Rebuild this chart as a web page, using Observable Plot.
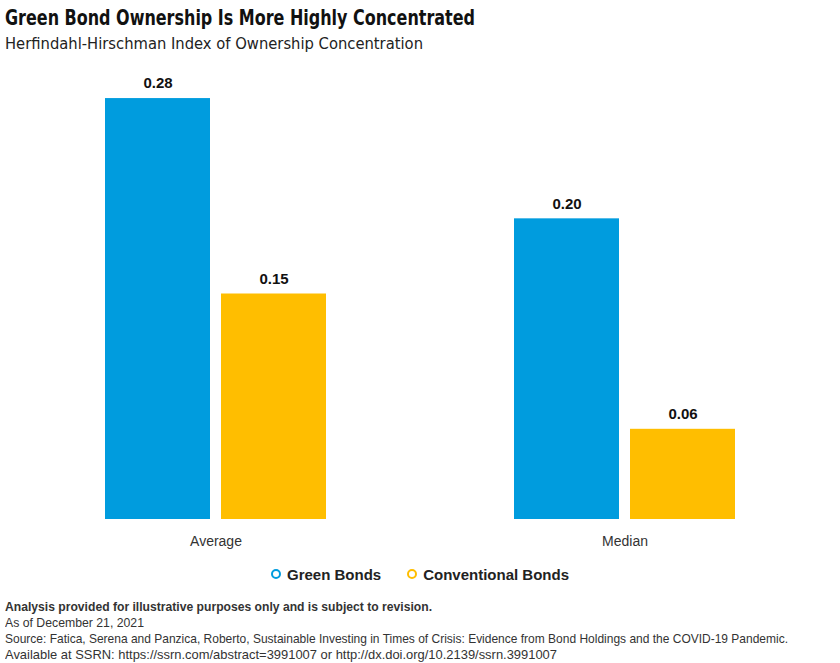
<!DOCTYPE html>
<html>
<head>
<meta charset="utf-8">
<script src="https://cdn.jsdelivr.net/npm/d3@7"></script>
<script src="https://cdn.jsdelivr.net/npm/@observablehq/plot@0.6"></script>
<style>
  html, body { margin: 0; padding: 0; background: #fff; }
  body { width: 840px; height: 663px; position: relative; overflow: hidden; font-family: "Liberation Sans", Arial, sans-serif; color: #222; }
  .abs { position: absolute; left: 5px; white-space: nowrap; }
  .fit { display: inline-block; transform-origin: 0 50%; white-space: nowrap; }
  #title { top: 6px; font-family: "DejaVu Sans Condensed", "DejaVu Sans", sans-serif; font-weight: bold; font-size: 21px; line-height: 24px; color: #111; }
  #subtitle { top: 34px; font-family: "DejaVu Sans Condensed", "DejaVu Sans", sans-serif; font-size: 16.5px; line-height: 20px; color: #222; }
  #chart { position: absolute; top: 60px; left: 0; }
  #legend { position: absolute; top: 565px; left: 0; width: 840px; text-align: center; font-weight: bold; font-size: 15px; line-height: 20px; color: #222; }
  #legend .item { display: inline-block; margin: 0 13px; }
  #legend .dot { display: inline-block; width: 6px; height: 6px; border-radius: 50%; border: 2.5px solid; margin-right: 6px; vertical-align: 1px; }
  #footer { top: 599px; font-size: 13px; line-height: 16px; color: #333; }
  #footer div { height: 16px; }
</style>
</head>
<body>
<div id="title" class="abs"><span class="fit" data-w="470">Green Bond Ownership Is More Highly Concentrated</span></div>
<div id="subtitle" class="abs"><span class="fit" data-w="418">Herfindahl-Hirschman Index of Ownership Concentration</span></div>
<div id="chart"></div>
<div id="legend"></div>
<div id="footer" class="abs"></div>
<script>
const categories = ["Average", "Median"];
const series = ["Green Bonds", "Conventional Bonds"];
const colors = ["#009CDE", "#FFBE00"];
const greenValues = [0.28, 0.20];
const conventionalValues = [0.15, 0.06];
const footerLines = [
  "Analysis provided for illustrative purposes only and is subject to revision.",
  "As of December 21, 2021",
  "Source: Fatica, Serena and Panzica, Roberto, Sustainable Investing in Times of Crisis: Evidence from Bond Holdings and the COVID-19 Pandemic.",
  "Available at SSRN: https://ssrn.com/abstract=3991007 or http://dx.doi.org/10.2139/ssrn.3991007"
];
const footerWidths = [427, 139, 783, 552];

const data = [];
categories.forEach((c, i) => {
  data.push({category: c, series: series[0], value: greenValues[i]});
  data.push({category: c, series: series[1], value: conventionalValues[i]});
});

const chart = Plot.plot({
  width: 840,
  height: 499,
  marginTop: 8,
  marginBottom: 40,
  marginLeft: 0,
  marginRight: 0,
  style: {fontSize: "14px", fontFamily: "'Liberation Sans', Arial, sans-serif", color: "#333"},
  facet: {marginTop: 0, marginBottom: 0, marginLeft: 0, marginRight: 0},
  fx: {domain: categories, paddingInner: 0.4597, paddingOuter: 0.2567, label: null, axis: "bottom", tickSize: 0, tickPadding: 17},
  x: {domain: series, paddingInner: 11 / 116, paddingOuter: 0, axis: null},
  y: {domain: [0, 0.30], axis: null},
  color: {domain: series, range: colors},
  marks: [
    Plot.barY(data, {fx: "category", x: "series", y: "value", fill: "series"}),
    Plot.text(data, {fx: "category", x: "series", y: "value", text: d => d.value.toFixed(2), dy: -15, fontWeight: "bold", fontSize: 15, fill: "#111"})
  ]
});
document.getElementById("chart").appendChild(chart);

const legend = document.getElementById("legend");
series.forEach((s, i) => {
  const item = document.createElement("span");
  item.className = "item";
  const dot = document.createElement("span");
  dot.className = "dot";
  dot.style.borderColor = colors[i];
  item.appendChild(dot);
  item.appendChild(document.createTextNode(s));
  legend.appendChild(item);
});

const footer = document.getElementById("footer");
footerLines.forEach((t, i) => {
  const line = document.createElement("div");
  const span = document.createElement("span");
  span.className = "fit";
  span.dataset.w = footerWidths[i];
  span.textContent = t;
  if (i === 0) span.style.fontWeight = "bold";
  line.appendChild(span);
  footer.appendChild(line);
});

document.querySelectorAll(".fit").forEach(el => {
  const w = el.getBoundingClientRect().width;
  const target = +el.dataset.w;
  if (w > 0) el.style.transform = `scaleX(${target / w})`;
});
</script>
</body>
</html>
